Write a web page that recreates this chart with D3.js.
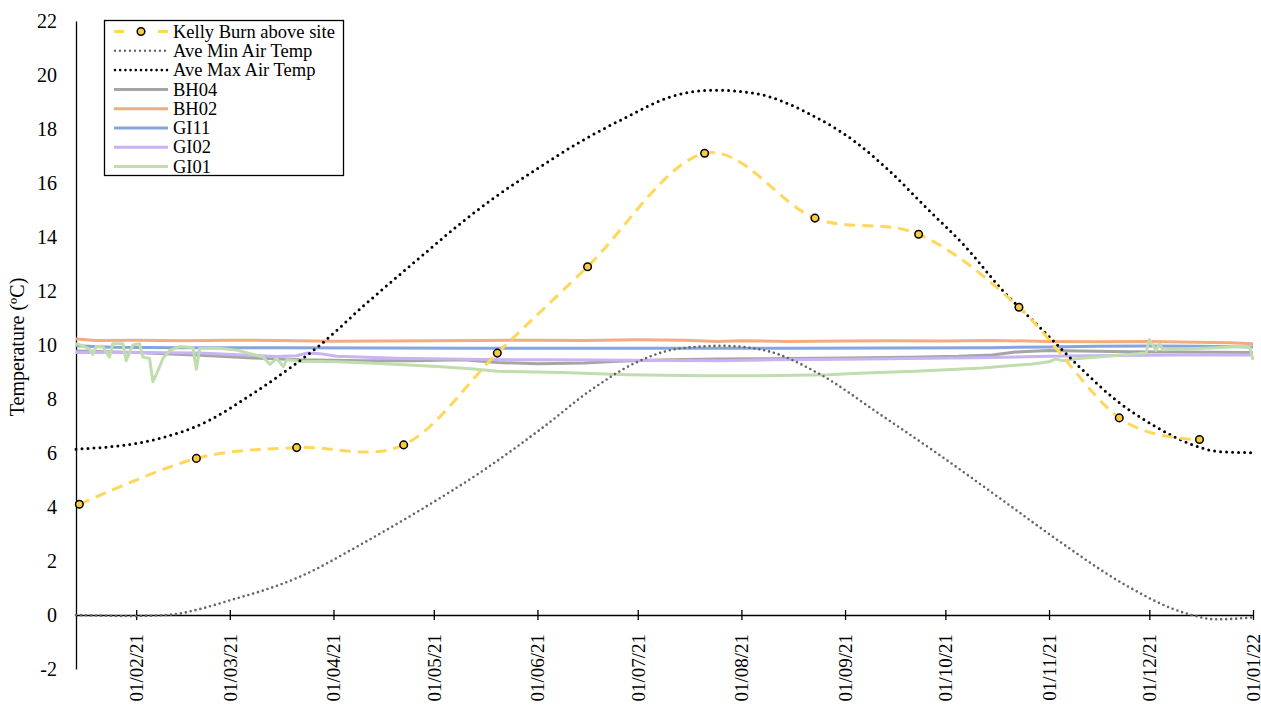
<!DOCTYPE html>
<html>
<head>
<meta charset="utf-8">
<script src="https://cdn.jsdelivr.net/npm/d3@7"></script>
<style>
  html, body { margin: 0; padding: 0; background: #ffffff; }
  svg { display: block; }
  text { font-family: "Liberation Serif", "Times New Roman", serif; fill: #000; }
</style>
</head>
<body>
<svg id="chart" width="1261" height="707"></svg>
<script>
// ---- Data -------------------------------------------------------------
// Monthly spot readings, Kelly Burn above site (°C)
const kellyDates  = ["2021-01-15","2021-02-19","2021-03-21","2021-04-22","2021-05-20","2021-06-16",
                     "2021-07-21","2021-08-23","2021-09-23","2021-10-23","2021-11-22","2021-12-16"];
const kellyValues = [4.1, 5.8, 6.2, 6.3, 9.7, 12.9, 17.1, 14.7, 14.1, 11.4, 7.3, 6.5];

// Average minimum air temperature (°C)
const minAirDates  = ["2021-01-14","2021-01-31","2021-02-12","2021-02-20","2021-03-02","2021-03-12","2021-03-22",
                      "2021-04-09","2021-04-27","2021-05-16","2021-06-03","2021-06-17","2021-06-30","2021-07-13",
                      "2021-07-26","2021-08-08","2021-08-24","2021-09-11","2021-09-30","2021-10-18","2021-11-05",
                      "2021-11-23","2021-12-12","2021-12-21","2022-01-01"];
const minAirValues = [0.0, -0.04, 0.02, 0.22, 0.58, 0.95, 1.42,
                      2.6, 3.89, 5.37, 6.98, 8.33, 9.32, 9.86,
                      9.97, 9.8, 8.95, 7.47, 5.86, 4.26, 2.65,
                      1.17, 0.06, -0.16, -0.09];

// Average maximum air temperature (°C)
const maxAirDates  = ["2021-01-14","2021-02-06","2021-02-23","2021-03-06","2021-03-19","2021-03-28","2021-04-10",
                      "2021-04-26","2021-05-08","2021-05-19","2021-05-31","2021-06-13","2021-06-28","2021-07-11",
                      "2021-07-24","2021-08-05","2021-08-22","2021-09-04","2021-09-14","2021-09-25","2021-10-07",
                      "2021-10-18","2021-10-30","2021-11-10","2021-11-21","2021-12-03","2021-12-14","2021-12-22",
                      "2022-01-01"];
const maxAirValues = [6.14, 6.48, 7.22, 8.05, 9.15, 10.0, 11.45,
                      13.15, 14.4, 15.45, 16.45, 17.47, 18.46, 19.2,
                      19.44, 19.32, 18.52, 17.53, 16.48, 15.12, 13.64,
                      12.04, 10.56, 9.2, 7.96, 6.97, 6.3, 6.05,
                      6.01];

// Logger records (°C)
const bh04Dates  = ["2021-01-14","2021-02-01","2021-02-20","2021-03-08","2021-03-22","2021-04-10","2021-04-25",
                    "2021-05-10","2021-05-20","2021-06-01","2021-06-15","2021-06-25","2021-07-10","2021-07-25",
                    "2021-08-15","2021-09-01","2021-09-20","2021-10-05","2021-10-15","2021-10-22","2021-11-01",
                    "2021-11-10","2021-11-25","2021-12-10","2022-01-01"];
const bh04Values = [9.78, 9.72, 9.62, 9.52, 9.45, 9.42, 9.42,
                    9.45, 9.35, 9.31, 9.33, 9.4, 9.45, 9.48,
                    9.5, 9.52, 9.55, 9.58, 9.63, 9.74, 9.8,
                    9.78, 9.75, 9.74, 9.72];

const bh02Dates  = ["2021-01-14","2021-01-20","2021-02-01","2021-02-15","2021-03-01","2021-03-15","2021-04-01",
                    "2021-04-15","2021-05-01","2021-05-15","2021-06-01","2021-06-15","2021-07-01","2021-07-15",
                    "2021-07-25","2021-08-01","2021-08-15","2021-09-01","2021-09-15","2021-10-01","2021-10-15",
                    "2021-11-01","2021-11-15","2021-12-01","2021-12-15","2021-12-25","2022-01-01"];
const bh02Values = [10.22, 10.17, 10.18, 10.16, 10.18, 10.17, 10.14,
                    10.15, 10.16, 10.17, 10.18, 10.17, 10.19, 10.18,
                    10.13, 10.16, 10.13, 10.15, 10.16, 10.15, 10.17,
                    10.13, 10.12, 10.13, 10.1, 10.08, 10.05];

const gi11Dates  = ["2021-01-14","2021-01-25","2021-02-15","2021-03-15","2021-04-15","2021-05-15","2021-06-15",
                    "2021-07-15","2021-08-15","2021-09-15","2021-10-15","2021-11-01","2021-11-15","2021-12-01",
                    "2021-12-15","2022-01-01"];
const gi11Values = [9.97, 9.92, 9.9, 9.9, 9.89, 9.88, 9.88,
                    9.88, 9.88, 9.89, 9.9, 9.93, 9.95, 9.96,
                    9.95, 9.93];

const gi02Dates  = ["2021-01-14","2021-02-01","2021-02-20","2021-03-05","2021-03-15","2021-03-21","2021-03-24",
                    "2021-03-28","2021-04-02","2021-04-20","2021-05-10","2021-06-01","2021-06-20","2021-07-10",
                    "2021-07-25","2021-08-10","2021-09-01","2021-09-20","2021-10-10","2021-11-01","2021-11-20",
                    "2021-12-10","2022-01-01"];
const gi02Values = [9.72, 9.72, 9.7, 9.63, 9.57, 9.6, 9.7,
                    9.68, 9.58, 9.51, 9.47, 9.45, 9.44, 9.43,
                    9.42, 9.45, 9.47, 9.5, 9.53, 9.58, 9.61,
                    9.63, 9.63];

const gi01Dates  = ["2021-01-14","2021-01-16","2021-01-18","2021-01-19","2021-01-20","2021-01-22","2021-01-24",
                    "2021-01-25","2021-01-28","2021-01-29","2021-01-31","2021-02-02","2021-02-03","2021-02-05",
                    "2021-02-06","2021-02-07","2021-02-09","2021-02-11","2021-02-14","2021-02-18","2021-02-19",
                    "2021-02-20","2021-02-26","2021-03-03","2021-03-08","2021-03-11","2021-03-13","2021-03-15",
                    "2021-03-17","2021-03-18","2021-03-22","2021-04-02","2021-04-12","2021-04-22","2021-05-02",
                    "2021-05-12","2021-05-20","2021-06-08","2021-06-28","2021-07-20","2021-08-07","2021-08-27",
                    "2021-09-05","2021-09-22","2021-10-12","2021-10-27","2021-11-01","2021-11-03","2021-11-05",
                    "2021-11-10","2021-11-22","2021-11-30","2021-12-01","2021-12-02","2021-12-03","2021-12-04",
                    "2021-12-05","2021-12-11","2021-12-21","2021-12-28","2021-12-31","2022-01-01"];
const gi01Values = [10.06, 9.97, 9.85, 9.65, 9.94, 9.95, 9.55,
                    10.05, 10.05, 9.42, 10.0, 10.05, 9.55, 9.5,
                    8.64, 8.9, 9.5, 9.8, 9.94, 9.9, 9.1,
                    9.88, 9.88, 9.81, 9.65, 9.55, 9.28, 9.5,
                    9.2, 9.45, 9.4, 9.38, 9.33, 9.27, 9.2,
                    9.12, 9.03, 8.98, 8.9, 8.86, 8.86, 8.9,
                    8.95, 9.03, 9.15, 9.3, 9.38, 9.48, 9.42,
                    9.5, 9.62, 9.7, 10.2, 10.0, 9.8, 10.05,
                    9.82, 9.85, 9.9, 9.95, 9.92, 9.45];

const yTicks = [-2, 0, 2, 4, 6, 8, 10, 12, 14, 16, 18, 20, 22];
const xTickDates = ["2021-02-01","2021-03-01","2021-04-01","2021-05-01","2021-06-01","2021-07-01",
                    "2021-08-01","2021-09-01","2021-10-01","2021-11-01","2021-12-01","2022-01-01"];
const yTitle = "Temperature (ºC)";

// ---- Setup ------------------------------------------------------------
const parse = d3.timeParse("%Y-%m-%d");
const fmt = d3.timeFormat("%d/%m/%y");
const zip = (ds, vs) => ds.map((d, i) => ({ date: parse(d), value: vs[i] }));

const svg = d3.select("#chart");
const x = d3.scaleTime()
  .domain([parse("2021-01-14"), parse("2022-01-01")])
  .range([76, 1253]);
const y = d3.scaleLinear().domain([-2, 22]).range([669, 21]);

const line = (curve) => d3.line().x(d => x(d.date)).y(d => y(d.value)).curve(curve);

// ---- Series definitions ---------------------------------------------
const loggers = [
  { name: "BH04", data: zip(bh04Dates, bh04Values), color: "#A5A5A5" },
  { name: "BH02", data: zip(bh02Dates, bh02Values), color: "#F4AB80" },
  { name: "GI11", data: zip(gi11Dates, gi11Values), color: "#86A5DE" },
  { name: "GI02", data: zip(gi02Dates, gi02Values), color: "#C8B4F2" },
  { name: "GI01", data: zip(gi01Dates, gi01Values), color: "#BFDDAD" }
];
const kelly = zip(kellyDates, kellyValues);
const minAir = zip(minAirDates, minAirValues);
const maxAir = zip(maxAirDates, maxAirValues);

const KELLY_LINE = "#FFD75A", KELLY_FILL = "#F9CC40";
const MIN_COLOR = "#666666";

// ---- Axes -------------------------------------------------------------
const yAxis = d3.axisLeft(y).tickValues(yTicks).tickSize(0).tickSizeOuter(0).tickPadding(19)
  .tickFormat(d => String(d));
const gy = svg.append("g").attr("transform", "translate(76,0)").call(yAxis);
gy.select(".domain").attr("stroke", "#000").attr("stroke-width", 1.3);
gy.selectAll("text").style("font-size", "20px").attr("font-family", null);

const xAxis = d3.axisBottom(x).tickValues(xTickDates.map(parse)).tickSize(4).tickSizeOuter(0).tickFormat(fmt);
const gx = svg.append("g").attr("transform", `translate(0,${y(0)})`).call(xAxis);
gx.select(".domain").attr("stroke", "#000").attr("stroke-width", 1.3);
gx.selectAll(".tick line").attr("y1", -5).attr("y2", 5).attr("stroke", "#000").attr("stroke-width", 1.3);
gx.selectAll(".tick text")
  .attr("transform", "rotate(-90)")
  .attr("x", -19).attr("y", 0).attr("dy", "0.33em")
  .attr("text-anchor", "end")
  .attr("font-family", null)
  .style("font-size", "19px");

svg.append("text")
  .attr("transform", `translate(24,347) rotate(-90)`)
  .attr("text-anchor", "middle")
  .style("font-size", "20px")
  .text(yTitle);

// ---- Lines ------------------------------------------------------------
const plot = svg.append("g");

loggers.forEach(s => {
  plot.append("path").datum(s.data)
    .attr("d", line(d3.curveLinear))
    .attr("fill", "none").attr("stroke", s.color).attr("stroke-width", 3)
    .attr("stroke-linejoin", "round");
});

plot.append("path").datum(minAir)
  .attr("d", line(d3.curveMonotoneX))
  .attr("fill", "none").attr("stroke", MIN_COLOR).attr("stroke-width", 2.6)
  .attr("stroke-linecap", "round").attr("stroke-dasharray", "0,5");

plot.append("path").datum(maxAir)
  .attr("d", line(d3.curveMonotoneX))
  .attr("fill", "none").attr("stroke", "#000").attr("stroke-width", 3)
  .attr("stroke-linecap", "round").attr("stroke-dasharray", "0,6");

plot.append("path").datum(kelly)
  .attr("d", line(d3.curveCardinal.tension(0)))
  .attr("fill", "none").attr("stroke", KELLY_LINE).attr("stroke-width", 3)
  .attr("stroke-dasharray", "11,7");

plot.selectAll("circle.kb").data(kelly).join("circle")
  .attr("class", "kb")
  .attr("cx", d => x(d.date)).attr("cy", d => y(d.value)).attr("r", 3.8)
  .attr("fill", KELLY_FILL).attr("stroke", "#000").attr("stroke-width", 1.5);

// ---- Legend -----------------------------------------------------------
const legendItems = [
  { name: "Kelly Burn above site", type: "kelly" },
  { name: "Ave Min Air Temp", type: "min" },
  { name: "Ave Max Air Temp", type: "max" },
  ...loggers.map(s => ({ name: s.name, type: "solid", color: s.color }))
];
const lg = svg.append("g");
lg.append("rect").attr("x", 104.5).attr("y", 20.5).attr("width", 239).attr("height", 155)
  .attr("fill", "#fff").attr("stroke", "#000").attr("stroke-width", 1.3);

legendItems.forEach((it, i) => {
  const cy = 31.5 + i * 19.3;
  const g = lg.append("g");
  if (it.type === "kelly") {
    g.append("line").attr("x1", 114).attr("x2", 168).attr("y1", cy).attr("y2", cy)
      .attr("stroke", KELLY_LINE).attr("stroke-width", 3).attr("stroke-dasharray", "10,17,0,17,10");
    g.append("circle").attr("cx", 141).attr("cy", cy).attr("r", 3.8)
      .attr("fill", KELLY_FILL).attr("stroke", "#000").attr("stroke-width", 1.5);
  } else if (it.type === "min") {
    g.append("line").attr("x1", 115).attr("x2", 167).attr("y1", cy).attr("y2", cy)
      .attr("stroke", MIN_COLOR).attr("stroke-width", 2.4).attr("stroke-linecap", "round")
      .attr("stroke-dasharray", "0,5");
  } else if (it.type === "max") {
    g.append("line").attr("x1", 115).attr("x2", 167).attr("y1", cy).attr("y2", cy)
      .attr("stroke", "#000").attr("stroke-width", 2.6).attr("stroke-linecap", "round")
      .attr("stroke-dasharray", "0,5.2");
  } else {
    g.append("line").attr("x1", 114).attr("x2", 168).attr("y1", cy).attr("y2", cy)
      .attr("stroke", it.color).attr("stroke-width", 3);
  }
  g.append("text").attr("x", 173).attr("y", cy).attr("dy", "0.33em")
    .style("font-size", "18.5px").text(it.name);
});
</script>
</body>
</html>
